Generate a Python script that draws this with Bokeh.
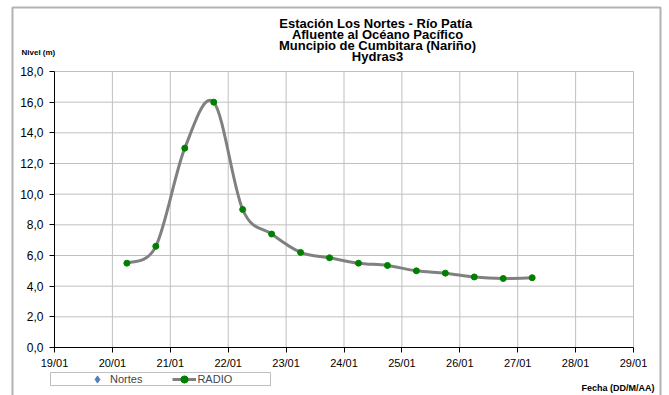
from bokeh.plotting import figure
from bokeh.models import FixedTicker, Label, BoxAnnotation, Legend, LegendItem
from bokeh.embed import file_html
from bokeh.resources import INLINE

# ---------------- data ----------------
title_lines = ["Estación Los Nortes  - Río Patía",
               "Afluente al Océano Pacífico",
               "Muncipio de Cumbitara (Nariño)",
               "Hydras3"]
y_axis_title = "Nivel (m)"
x_axis_title = "Fecha (DD/M/AA)"

x_ticks = [19, 20, 21, 22, 23, 24, 25, 26, 27, 28, 29]
x_tick_labels = ["19/01", "20/01", "21/01", "22/01", "23/01", "24/01",
                 "25/01", "26/01", "27/01", "28/01", "29/01"]
y_ticks = [0, 2, 4, 6, 8, 10, 12, 14, 16, 18]
y_tick_labels = ["0,0", "2,0", "4,0", "6,0", "8,0", "10,0", "12,0",
                 "14,0", "16,0", "18,0"]

# day of January (fractional) for each RADIO reading
radio_fecha = [20.25, 20.75, 21.25, 21.75, 22.25, 22.75, 23.25, 23.75,
               24.25, 24.75, 25.25, 25.75, 26.25, 26.75, 27.25]
radio_nivel = [5.5, 6.6, 13.0, 16.0, 9.0, 7.4, 6.2, 5.85,
               5.5, 5.35, 5.0, 4.85, 4.6, 4.5, 4.55]

# the "Nortes" series has no value shown in this window (missing reading)
nortes_fecha = [20.25]
nortes_nivel = [float("nan")]

# ---------------- layout constants (pixels in the figure) ----------------
FIG_W, FIG_H = 669, 395
FL, FR, FT, FB = 54, 633, 71, 347          # plot-area edges in pixels
XMIN, XMAX, YMIN, YMAX = 19, 29, 0, 18
SX = (FR - FL) / (XMAX - XMIN)             # px per day
SY = (FB - FT) / (YMAX - YMIN)             # px per metre


def dx(px):
    return XMIN + (px - FL) / SX


def dy(py):
    return YMIN + (FB - py) / SY


p = figure(width=FIG_W, height=FIG_H,
           x_range=(dx(0), dx(FIG_W)), y_range=(dy(FIG_H), dy(0)),
           output_backend="svg", toolbar_location=None,
           min_border_left=0, min_border_right=0,
           min_border_top=0, min_border_bottom=0)
p.background_fill_color = "white"
p.border_fill_color = "white"
p.outline_line_color = None
p.grid.visible = False

FONT = "Liberation Sans"
for ax in (p.xaxis[0], p.yaxis[0]):
    ax.axis_line_color = "black"
    ax.axis_line_width = 1
    ax.major_tick_line_color = "black"
    ax.major_tick_out = 5
    ax.major_tick_in = 0
    ax.minor_tick_out = 0
    ax.minor_tick_in = 0
    ax.major_label_text_font = FONT
    ax.major_label_text_font_size = "11px"
    ax.major_label_text_color = "black"

p.xaxis.fixed_location = YMIN
p.xaxis.bounds = (XMIN, XMAX)
p.xaxis.ticker = FixedTicker(ticks=x_ticks)
p.xaxis.major_label_overrides = {t: l for t, l in zip(x_ticks, x_tick_labels)}
p.xaxis.major_label_standoff = 4

p.yaxis.fixed_location = XMIN
p.yaxis.bounds = (YMIN, YMAX)
p.yaxis.ticker = FixedTicker(ticks=y_ticks)
p.yaxis.major_label_overrides = {t: l for t, l in zip(y_ticks, y_tick_labels)}
p.yaxis.major_label_text_font_size = "12px"
p.yaxis.major_label_standoff = 6

# grid lines limited to the plot area
p.segment(x0=x_ticks, y0=[y_ticks[0]] * len(x_ticks), x1=x_ticks,
          y1=[y_ticks[-1]] * len(x_ticks), line_color="#c0c0c0", line_width=1,
          level="underlay")
p.segment(x0=[x_ticks[0]] * len(y_ticks), y0=y_ticks, x1=[x_ticks[-1]] * len(y_ticks),
          y1=y_ticks, line_color="#c0c0c0", line_width=1, level="underlay")

# ---------------- smoothed RADIO line (Bezier segments through the points) ----------------
n = len(radio_fecha)
x0, y0, x1, y1, cx0, cy0, cx1, cy1 = [], [], [], [], [], [], [], []
for i in range(n - 1):
    im = i - 1 if i > 0 else i
    ip = i + 2 if i + 2 < n else i + 1
    xa, ya = radio_fecha[i], radio_nivel[i]
    xb, yb = radio_fecha[i + 1], radio_nivel[i + 1]
    x0.append(xa); y0.append(ya); x1.append(xb); y1.append(yb)
    cx0.append(xa + (xb - radio_fecha[im]) / 6.0)
    cy0.append(ya + (yb - radio_nivel[im]) / 6.0)
    cx1.append(xb - (radio_fecha[ip] - xa) / 6.0)
    cy1.append(yb - (radio_nivel[ip] - ya) / 6.0)

radio_curve = p.bezier(x0=x0, y0=y0, x1=x1, y1=y1, cx0=cx0, cy0=cy0, cx1=cx1, cy1=cy1,
                       line_color="#808080", line_width=3)
radio_pts = p.scatter(radio_fecha, radio_nivel, marker="circle", size=6,
                      fill_color="#008000", line_color="#008000")
nortes_pts = p.scatter(x=nortes_fecha, y=nortes_nivel, marker="diamond", size=9,
                       fill_color="#4f81bd", line_color="#4f81bd")

# ---------------- titles ----------------
title_y = [23, 34, 45, 56]
for txt, ty in zip(title_lines, title_y):
    p.add_layout(Label(x=dx(377), y=dy(ty), text=txt, text_align="center",
                       text_baseline="middle", text_font=FONT,
                       text_font_style="bold", text_font_size="13px",
                       text_color="black"))

p.add_layout(Label(x=dx(21), y=dy(52), text=y_axis_title, text_align="left",
                   text_baseline="middle", text_font=FONT, text_font_style="bold",
                   text_font_size="8px", text_color="black"))
p.add_layout(Label(x=dx(654), y=dy(387), text=x_axis_title, text_align="right",
                   text_baseline="middle", text_font=FONT, text_font_style="bold",
                   text_font_size="9px", text_color="black"))

# ---------------- outer chart border and legend box ----------------
p.add_layout(BoxAnnotation(left=dx(12), right=dx(660), top=dy(7), bottom=dy(430),
                           fill_color=None, line_color="black", line_width=2))
p.add_layout(BoxAnnotation(left=dx(50), right=dx(270), top=dy(372), bottom=dy(385),
                           fill_color=None, line_color="#303030", line_width=1))

legend = Legend(items=[LegendItem(label="Nortes", renderers=[nortes_pts]),
                       LegendItem(label="RADIO", renderers=[radio_curve, radio_pts])],
                orientation="horizontal", location=(85, FIG_H - 388),
                padding=0, margin=0, spacing=30, glyph_width=24, glyph_height=18,
                label_height=18, label_standoff=1,
                label_text_font=FONT, label_text_font_size="11px",
                border_line_alpha=0, background_fill_alpha=0)
p.add_layout(legend)

open("out.html", "w").write(file_html(p, INLINE))
